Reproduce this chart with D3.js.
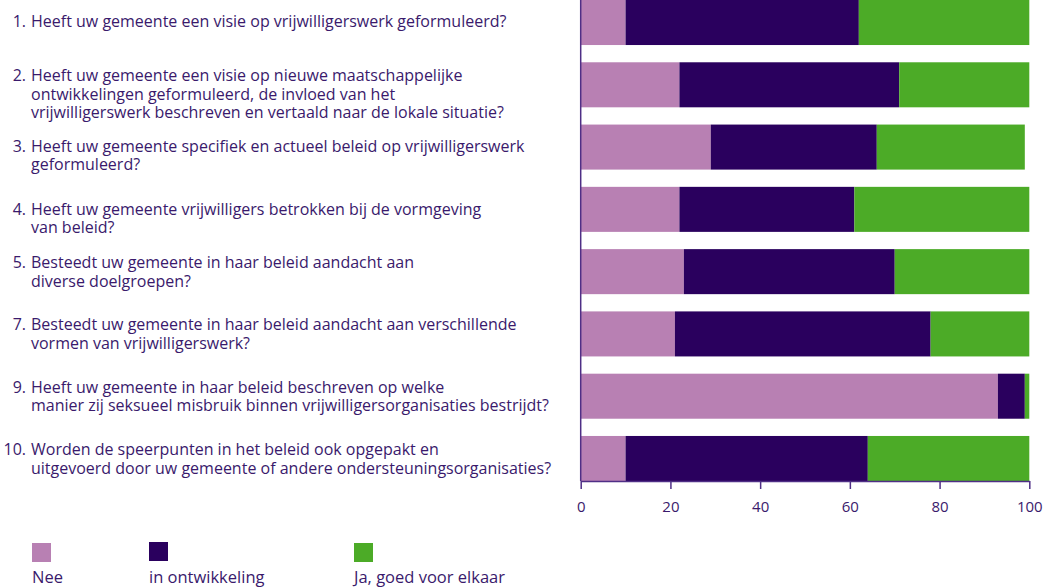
<!DOCTYPE html>
<html>
<head>
<meta charset="utf-8">
<script src="https://cdn.jsdelivr.net/npm/d3@7"></script>
<style>
  body { margin: 0; background: #fff; }
  svg text { font-family: "Open Sans", "Noto Sans", sans-serif; fill: #3a1a6c; }
</style>
</head>
<body>
<svg id="chart"></svg>
<script>
// vragen (nummer + regels zoals in het origineel afgebroken)
const questionNumbers = ['1.', '2.', '3.', '4.', '5.', '7.', '9.', '10.']
const questionLines = [
  ['Heeft uw gemeente een visie op vrijwilligerswerk geformuleerd?'],
  ['Heeft uw gemeente een visie op nieuwe maatschappelijke', 'ontwikkelingen geformuleerd, de invloed van het', 'vrijwilligerswerk beschreven en vertaald naar de lokale situatie?'],
  ['Heeft uw gemeente specifiek en actueel beleid op vrijwilligerswerk', 'geformuleerd?'],
  ['Heeft uw gemeente vrijwilligers betrokken bij de vormgeving', 'van beleid?'],
  ['Besteedt uw gemeente in haar beleid aandacht aan', 'diverse doelgroepen?'],
  ['Besteedt uw gemeente in haar beleid aandacht aan verschillende', 'vormen van vrijwilligerswerk?'],
  ['Heeft uw gemeente in haar beleid beschreven op welke', 'manier zij seksueel misbruik binnen vrijwilligersorganisaties bestrijdt?'],
  ['Worden de speerpunten in het beleid ook opgepakt en', 'uitgevoerd door uw gemeente of andere ondersteuningsorganisaties?']
]

const seriesNames = ['Nee', 'in ontwikkeling', 'Ja, goed voor elkaar']
const nee = [10, 22, 29, 22, 23, 21, 93, 10]
const inOntwikkeling = [52, 49, 37, 39, 47, 57, 6, 54]
const ja = [38, 29, 33, 39, 30, 22, 1, 36]
const xTicks = [0, 20, 40, 60, 80, 100]

const colors = ['#b880b3', '#2a005e', '#4cab27']
const axisColor = '#4f2f86'

let W = 1043, H = 587

let svg = d3.select('#chart')
    .attr('width', W)
    .attr('height', H)

let rows = questionNumbers.map((n, i) => ({
    i: i, num: n, lines: questionLines[i],
    nee: nee[i], ontw: inOntwikkeling[i], ja: ja[i]
}))

let x = d3.scaleLinear().domain([0, 100]).range([580.7, 1029.3])
let y = d3.scaleBand().domain(rows.map(d => d.i)).range([0, 481]).paddingInner(0.277).paddingOuter(0)

let stack = d3.stack().keys(['nee', 'ontw', 'ja'])(rows)

let barG = svg.append('g')
barG.selectAll('g')
    .data(stack)
    .enter().append('g')
    .attr('fill', (d, k) => colors[k])
    .selectAll('rect')
    .data(d => d)
    .enter().append('rect')
    .attr('x', d => x(d[0]))
    .attr('width', d => x(d[1]) - x(d[0]))
    .attr('y', d => y(d.data.i))
    .attr('height', y.bandwidth())

// x-as
let xAxis = svg.append('g')
    .attr('transform', `translate(0, ${y.range()[1]})`)
    .call(d3.axisBottom(x).tickValues(xTicks).tickSize(8).tickPadding(12).tickSizeOuter(0))
xAxis.select('.domain').attr('stroke', axisColor).attr('stroke-width', 1.5)
xAxis.selectAll('.tick line').attr('stroke', axisColor).attr('stroke-width', 1.5)
xAxis.selectAll('.tick text').style('font-size', '15px').attr('fill', '#3a1a6c')

// y-as lijn
svg.append('line')
    .attr('x1', x(0)).attr('x2', x(0))
    .attr('y1', 0).attr('y2', y.range()[1])
    .attr('stroke', axisColor).attr('stroke-width', 1.5)

// labels; sommige regels staan in het origineel wat lager
let nudge = {0: 8, 2: 8, 3: 9}
let labelG = svg.append('g')
let labels = labelG.selectAll('g')
    .data(rows)
    .enter().append('g')
    .attr('transform', d => `translate(0, ${y(d.i) + 19 + (nudge[d.i] || 0)})`)

labels.append('text')
    .attr('x', 26)
    .attr('text-anchor', 'end')
    .style('font-size', '16px')
    .text(d => d.num)

labels.each(function(d) {
    let t = d3.select(this).append('text')
        .attr('x', 31)
        .style('font-size', '16px')
    d.lines.forEach((l, j) => {
        t.append('tspan').attr('x', 31).attr('y', j * 18.6).text(l)
    })
})

// legenda
let legendX = [32, 149, 354]
let legend = svg.append('g')
    .selectAll('g')
    .data(seriesNames)
    .enter().append('g')
    .attr('transform', (d, k) => `translate(${legendX[k]}, 543)`)
legend.append('rect')
    .attr('width', 19).attr('height', 19)
    .attr('y', (d, k) => k == 1 ? -1 : 0)
    .attr('fill', (d, k) => colors[k])
legend.append('text')
    .attr('y', 40)
    .style('font-size', '16.5px')
    .text(d => d)
</script>
</body>
</html>
